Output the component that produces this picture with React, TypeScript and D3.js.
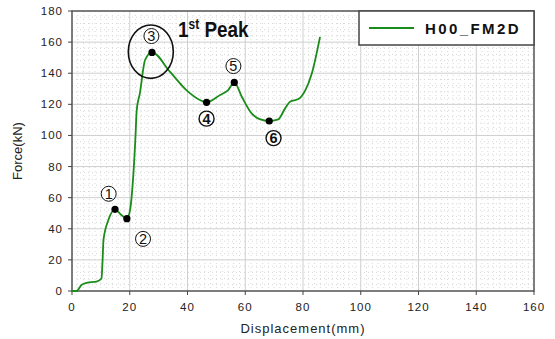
import React from "react";
import * as d3 from "d3";

const dispValues = [0, 1.6, 3.3, 5.1, 8.5, 10.2, 10.6, 10.9, 12.6, 14.9, 17, 19.0, 20.1, 21.2, 22.0, 22.4, 23.5, 25.3, 27.7, 33.9, 39.7, 44.3, 46.6, 51.3, 54, 56.2, 58.8, 62.2, 65, 68.3, 71.4, 73.8, 75.5, 78.4, 80.7, 83.0, 85.9];
const forceValues = [0, 0, 3.9, 5.3, 6, 8, 20, 32.8, 45.6, 52.5, 49, 46.5, 52, 73.5, 100, 116, 127, 148.5, 153.4, 141, 129, 122.8, 121.3, 126, 129, 134.1, 124.9, 114.2, 110.5, 109.3, 110.3, 117.4, 121.7, 123.4, 128.7, 139.5, 163.4];

const markerLabels = ["1", "2", "3", "4", "5", "6"];
const markerDisp = [14.9, 19.0, 27.7, 46.6, 56.2, 68.3];
const markerForce = [52.5, 46.5, 153.4, 121.3, 134.1, 109.3];
// label offsets in data units (dx mm, dy kN)
const labelDx = [-2.2, 5.6, -0.2, 0, -0.3, 1.5];
const labelDy = [10, -13, 10.5, -10.5, 10.5, -11];

const xTicks = [0, 20, 40, 60, 80, 100, 120, 140, 160];
const yTicks = [0, 20, 40, 60, 80, 100, 120, 140, 160, 180];
const seriesName = "H00_FM2D";

export default function App() {
  const W = 555, H = 339;
  const left = 72, right = 534, top = 11, bottom = 291;
  const x = d3.scaleLinear().domain([0, 160]).range([left, right]);
  const y = d3.scaleLinear().domain([0, 180]).range([bottom, top]);
  const data = dispValues.map((d, i) => [d, forceValues[i]] as [number, number]);
  const line = d3.line<[number, number]>().x(d => x(d[0])).y(d => y(d[1])).curve(d3.curveMonotoneX);

  const minorX = d3.range(0, 161, 2).filter(v => v % 20 !== 0);
  const minorY = d3.range(0, 181, 4).filter(v => v % 20 !== 0);
  const font = "'Liberation Sans', Arial, sans-serif";

  return (
    <svg width={W} height={H} style={{ position: "absolute", left: 0, top: 0 }}>
      <rect x={0} y={0} width={W} height={H} fill="#fff" />
      {minorX.map(v => (
        <line key={"mx" + v} x1={x(v)} x2={x(v)} y1={top} y2={bottom} stroke="#d8d8d8" strokeWidth={1} strokeDasharray="1,3" />
      ))}
      {minorY.map(v => (
        <line key={"my" + v} x1={left} x2={right} y1={y(v)} y2={y(v)} stroke="#d8d8d8" strokeWidth={1} strokeDasharray="1,3" />
      ))}
      {xTicks.map(v => (
        <line key={"gx" + v} x1={x(v)} x2={x(v)} y1={top} y2={bottom} stroke="#cfcfcf" strokeWidth={1} />
      ))}
      {yTicks.map(v => (
        <line key={"gy" + v} x1={left} x2={right} y1={y(v)} y2={y(v)} stroke="#cfcfcf" strokeWidth={1} />
      ))}
      <rect x={left} y={top} width={right - left} height={bottom - top} fill="none" stroke="#444" strokeWidth={1.3} />
      {xTicks.map(v => (
        <g key={"tx" + v}>
          <line x1={x(v)} x2={x(v)} y1={bottom} y2={bottom + 4} stroke="#444" />
          <text x={x(v)} y={bottom + 20} textAnchor="middle" fontSize={11.5} fontFamily={font} letterSpacing={1} fill="#222">{v}</text>
        </g>
      ))}
      {yTicks.map(v => (
        <g key={"ty" + v}>
          <line x1={left - 4} x2={left} y1={y(v)} y2={y(v)} stroke="#444" />
          <text x={63} y={y(v) + 4} textAnchor="end" fontSize={11.5} fontFamily={font} letterSpacing={1} fill="#222">{v}</text>
        </g>
      ))}
      <text x={(left + right) / 2} y={333} textAnchor="middle" fontSize={13} fontFamily={font} letterSpacing={1} fill="#222">Displacement(mm)</text>
      <text transform={`translate(22, ${(top + bottom) / 2}) rotate(-90)`} textAnchor="middle" fontSize={13} fontFamily={font} fill="#222">Force(kN)</text>

      <path d={line(data) || ""} fill="none" stroke="#1a8c1a" strokeWidth={1.8} />

      <ellipse cx={150.8} cy={51.7} rx={22.5} ry={26.7} fill="none" stroke="#111" strokeWidth={1.6} />

      {markerDisp.map((d, i) => (
        <circle key={"m" + i} cx={x(d)} cy={y(markerForce[i])} r={3.6} fill="#000" />
      ))}
      {markerDisp.map((d, i) => {
        const cx = x(d + labelDx[i]);
        const cy = y(markerForce[i] + labelDy[i]);
        const bold = i === 3 || i === 5;
        return (
          <g key={"l" + i}>
            <circle cx={cx} cy={cy} r={7.5} fill="#fff" stroke="#111" strokeWidth={bold ? 1.4 : 1} />
            <text x={cx} y={cy + 5.2} textAnchor="middle" fontSize={14.5} fontWeight={bold ? "bold" : "normal"} fontFamily={font} fill="#111">{markerLabels[i]}</text>
          </g>
        );
      })}

      <g transform="translate(178,37) scale(0.86,1)">
        <text x={0} y={0} fontSize={22} fontWeight="bold" fontFamily={font} fill="#111">
          1<tspan fontSize={14} dy={-8}>st</tspan><tspan dy={8}> Peak</tspan>
        </text>
      </g>

      <rect x={359} y={top} width={right - 359} height={34} fill="#fff" stroke="#444" strokeWidth={1.5} />
      <line x1={369} x2={414} y1={28} y2={28} stroke="#1a8c1a" strokeWidth={1.8} />
      <text x={425} y={34} fontSize={15} fontWeight="bold" fontFamily={font} letterSpacing={2.4} fill="#111">{seriesName}</text>
    </svg>
  );
}
